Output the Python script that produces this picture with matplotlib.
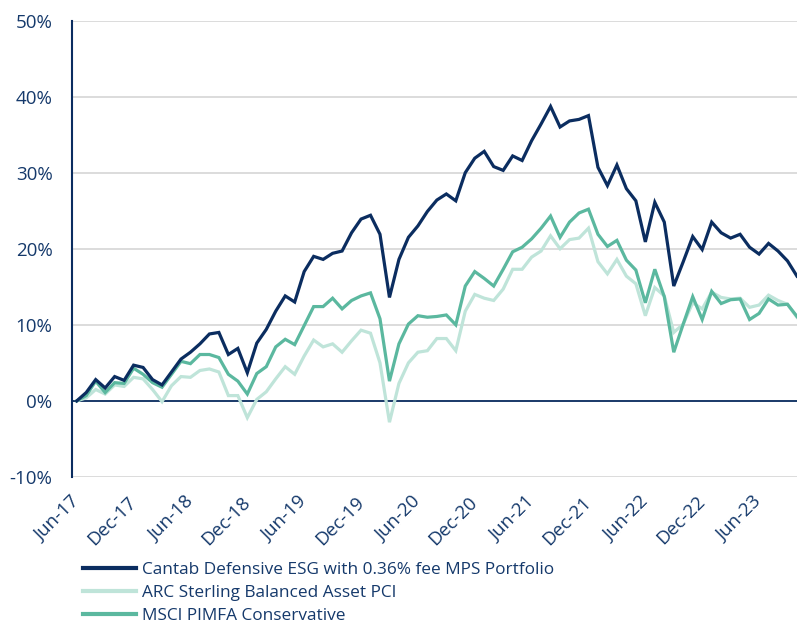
import matplotlib
matplotlib.use('Agg')
import matplotlib.pyplot as plt
from matplotlib.ticker import FuncFormatter

plt.rcParams['font.family'] = ['Open Sans', 'DejaVu Sans']

# monthly cumulative returns (%), Jun-17 .. Oct-23
cantab = [0, 1.1, 2.8, 1.7, 3.2, 2.7, 4.7, 4.4, 2.8, 2.1,
          3.8, 5.5, 6.4, 7.5, 8.8, 9.0, 6.1, 6.9, 3.7, 7.6,
          9.4, 11.8, 13.8, 13.0, 17.0, 19.0, 18.6, 19.4, 19.7, 22.1,
          23.9, 24.4, 21.9, 13.6, 18.6, 21.5, 23.0, 24.9, 26.4, 27.2,
          26.3, 30.0, 31.9, 32.8, 30.8, 30.3, 32.2, 31.6, 34.2, 36.4,
          38.7, 36.0, 36.8, 37.0, 37.5, 30.7, 28.3, 31.0, 27.9, 26.3,
          20.9, 26.1, 23.5, 15.1, 18.3, 21.6, 19.9, 23.5, 22.1, 21.4,
          21.9, 20.2, 19.3, 20.7, 19.7, 18.4, 16.4]
arc = [0, 0.4, 1.5, 0.9, 2.1, 1.9, 3.1, 2.9, 1.5, -0.1,
       2.0, 3.2, 3.1, 4.0, 4.2, 3.8, 0.7, 0.7, -2.2, 0.2,
       1.2, 2.9, 4.5, 3.5, 5.9, 8.0, 7.1, 7.5, 6.4, 7.9,
       9.3, 8.9, 5.0, -2.8, 2.3, 5.0, 6.4, 6.6, 8.2, 8.2,
       6.6, 11.8, 14.0, 13.5, 13.2, 14.7, 17.3, 17.3, 18.9, 19.7,
       21.7, 20.0, 21.2, 21.4, 22.7, 18.3, 16.7, 18.6, 16.4, 15.4,
       11.2, 14.9, 13.8, 9.0, 10.1, 12.9, 12.1, 14.3, 13.6, 13.4,
       13.5, 12.3, 12.6, 13.9, 13.2, 12.7, 11.0]
msci = [0, 0.7, 2.6, 1.1, 2.4, 2.3, 4.3, 3.5, 2.4, 1.8,
        3.5, 5.2, 4.9, 6.1, 6.1, 5.7, 3.5, 2.6, 0.9, 3.6,
        4.5, 7.1, 8.1, 7.4, 9.9, 12.4, 12.4, 13.5, 12.1, 13.2,
        13.8, 14.2, 10.8, 2.6, 7.5, 10.1, 11.2, 11.0, 11.1, 11.3,
        10.0, 15.1, 17.0, 16.1, 15.1, 17.3, 19.6, 20.2, 21.3, 22.7,
        24.3, 21.5, 23.5, 24.7, 25.2, 21.9, 20.3, 21.1, 18.5, 17.2,
        12.9, 17.3, 13.7, 6.4, 10.1, 13.7, 10.7, 14.4, 12.8, 13.3,
        13.4, 10.7, 11.5, 13.4, 12.6, 12.7, 11.1]

tick_labels = ['Jun-17', 'Dec-17', 'Jun-18', 'Dec-18', 'Jun-19', 'Dec-19', 'Jun-20',
               'Dec-20', 'Jun-21', 'Dec-21', 'Jun-22', 'Dec-22', 'Jun-23']
names = ['Cantab Defensive ESG with 0.36% fee MPS Portfolio',
         'ARC Sterling Balanced Asset PCI',
         'MSCI PIMFA Conservative']

navy = '#0b2d60'
light = '#bfe4d9'
mid = '#5bb89f'
txt = '#15396b'

fig = plt.figure(figsize=(7.97, 6.25), dpi=100)
ax = fig.add_axes([72 / 797, (625 - 477) / 625, 729.7 / 797, 456.5 / 625])

x = list(range(len(cantab)))
l_arc, = ax.plot(x, arc, color=light, lw=2.3, solid_joinstyle='miter', zorder=3)
l_msci, = ax.plot(x, msci, color=mid, lw=2.3, solid_joinstyle='miter', zorder=4)
l_cantab, = ax.plot(x, cantab, color=navy, lw=2.3, solid_joinstyle='miter', zorder=5)

ax.set_xlim(-0.5, len(cantab) - 0.5)
ax.set_ylim(-10, 50)
ax.set_yticks(range(-10, 51, 10))
ax.yaxis.set_major_formatter(FuncFormatter(lambda v, p: f'{v:.0f}%'))
ax.grid(axis='y', color='#d9d9d9', lw=1.3, zorder=0)
ax.axhline(0, color=navy, lw=1.3, zorder=2)

for s in ['top', 'right', 'bottom']:
    ax.spines[s].set_visible(False)
ax.spines['left'].set_color(navy)
ax.spines['left'].set_linewidth(1.5)

ax.set_xticks(range(0, 73, 6))
ax.set_xticklabels(tick_labels, rotation=45, ha='right', va='center', rotation_mode='anchor')
ax.tick_params(axis='x', length=0, pad=16, labelsize=13.5, labelcolor=txt)
ax.tick_params(axis='y', length=0, pad=14, labelsize=13.5, labelcolor=txt)

leg = fig.legend([l_cantab, l_arc, l_msci], names, loc='upper left',
                 bbox_to_anchor=(83 / 797, 1 - 562 / 625), frameon=False,
                 fontsize=12.4, handlelength=3.1, handletextpad=0.3,
                 labelspacing=0.4, borderaxespad=0, borderpad=0)
for t in leg.get_texts():
    t.set_color(txt)
for h in leg.get_lines():
    h.set_linewidth(3)

fig.savefig('out.png', dpi=100)
